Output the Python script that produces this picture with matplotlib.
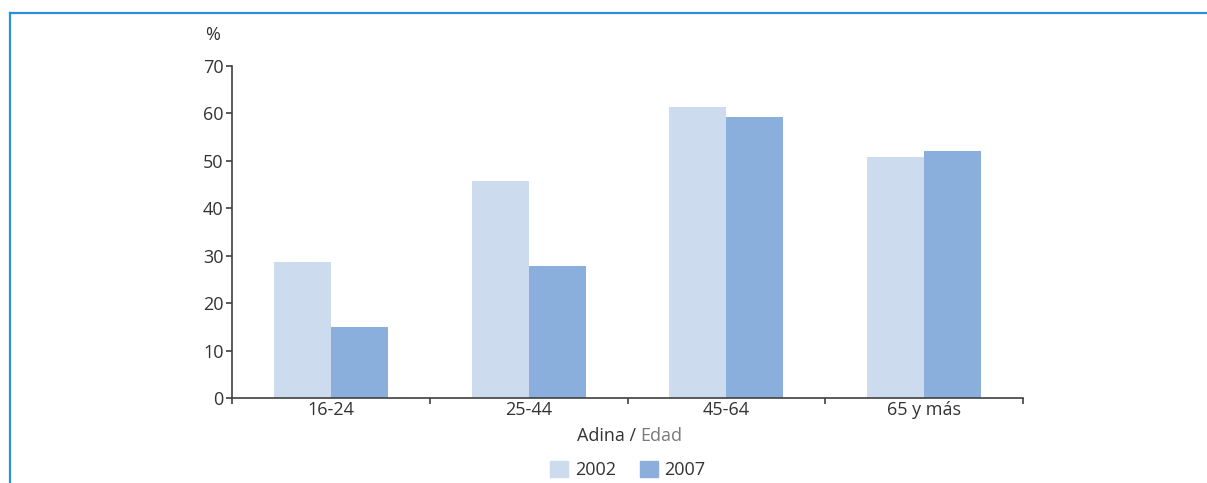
import numpy as np
import matplotlib
matplotlib.use("Agg")
import matplotlib.pyplot as plt
from matplotlib.patches import Patch
from matplotlib.lines import Line2D

plt.rcParams['font.family'] = ['Open Sans', 'DejaVu Sans']

# datos
grupos = ['16-24', '25-44', '45-64', '65 y más']
anios = ['2002', '2007']
v2002 = [28.7, 45.8, 61.3, 50.9]
v2007 = [15.0, 27.9, 59.2, 52.0]
colores = ['#CCDBEE', '#8BAFDC']

W, H = 1207, 483
fig = plt.figure(figsize=(W / 100, H / 100), dpi=100)
ax = fig.add_axes([232 / W, 1 - 398 / H, (1023 - 232) / W, (398 - 66) / H])

x = np.arange(len(grupos))
bw = 0.288
ax.bar(x - bw / 2, v2002, bw, color=colores[0], label=anios[0])
ax.bar(x + bw / 2, v2007, bw, color=colores[1], label=anios[1])

ax.set_xlim(-0.5, len(grupos) - 0.5)
ax.set_ylim(0, 70)
ax.set_yticks(range(0, 71, 10))
ax.set_xticks(x)
ax.set_xticklabels(grupos)
ax.set_xticks(np.arange(-0.5, len(grupos)), minor=True)

fs = 13
gris = '#404040'
for s in ['top', 'right']:
    ax.spines[s].set_visible(False)
for s in ['left', 'bottom']:
    ax.spines[s].set_color(gris)
    ax.spines[s].set_linewidth(1.2)
ax.tick_params(axis='y', colors=gris, labelcolor='#333333', labelsize=fs, length=4, width=1.2, pad=2)
ax.tick_params(axis='x', which='major', length=0, labelsize=fs, labelcolor='#333333', pad=2)
ax.tick_params(axis='x', which='minor', length=4, width=1.2, color=gris)

# titulo del eje y
fig.text(213 / W, 1 - 35 / H, '%', ha='center', va='center', fontsize=fs, color='#333333')

# etiqueta del eje x en dos colores
fig.text(636 / W, 1 - 436 / H, 'Adina /', ha='right', va='center', fontsize=fs, color='#333333')
fig.text(640 / W, 1 - 436 / H, 'Edad', ha='left', va='center', fontsize=fs, color='#7a7a7a')

handles = [Patch(color=colores[0]), Patch(color=colores[1])]
fig.legend(handles, anios, loc='center', bbox_to_anchor=(628 / W, 1 - 470 / H), ncol=2,
           frameon=False, fontsize=fs, handlelength=1.0, handleheight=1.0,
           handletextpad=0.35, columnspacing=1.35, labelcolor='#333333')

# marco azul
azul = '#2A90D8'
fig.add_artist(Line2D([9.5 / W, 1], [1 - 12.5 / H, 1 - 12.5 / H], color=azul, lw=1.6,
                      transform=fig.transFigure))
fig.add_artist(Line2D([9.5 / W, 9.5 / W], [0, 1 - 12.5 / H], color=azul, lw=1.6,
                      transform=fig.transFigure))

fig.savefig('out.png', dpi=100)
